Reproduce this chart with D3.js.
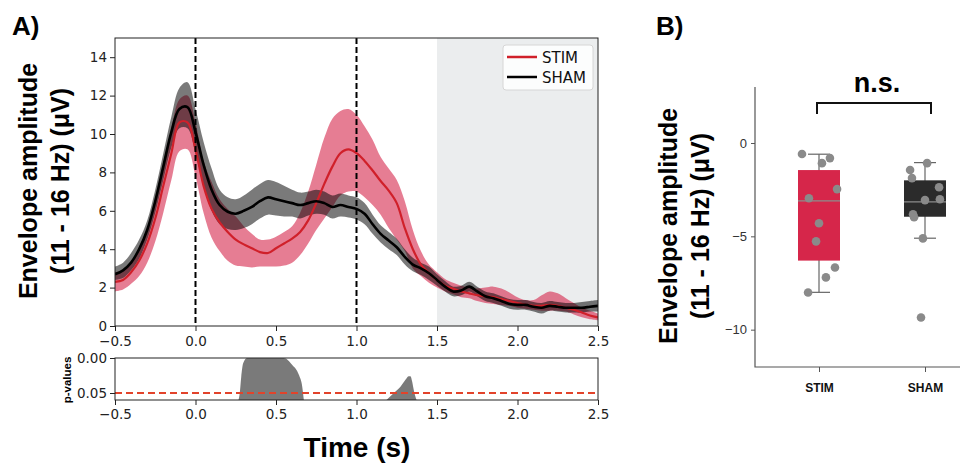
<!DOCTYPE html>
<html>
<head>
<meta charset="utf-8">
<script src="https://cdn.jsdelivr.net/npm/d3@7"></script>
<style>
  body { margin: 0; background: #fff; }
  svg { display: block; }
</style>
</head>
<body>
<svg id="chart" width="960" height="464"></svg>
<script>
// time samples (s)
const time = [-0.5,-0.45,-0.4,-0.35,-0.3,-0.25,-0.2,-0.15,-0.1,-0.05,
  0,0.05,0.1,0.15,0.2,0.25,0.3,0.35,0.4,0.45,
  0.5,0.55,0.6,0.65,0.7,0.75,0.8,0.85,0.9,0.95,
  1,1.05,1.1,1.15,1.2,1.25,1.3,1.35,1.4,1.45,
  1.5,1.55,1.6,1.65,1.7,1.75,1.8,1.85,1.9,1.95,
  2,2.05,2.1,2.15,2.2,2.25,2.3,2.35,2.4,2.45,2.5];

// STIM envelope (mean, lower CI, upper CI)
const stimMean = [2.3,2.4,2.8,3.4,4.3,5.6,7.3,9.0,10.6,10.6,
  9.2,7.3,6.1,5.4,4.9,4.5,4.25,4.05,3.85,3.8,
  4.05,4.3,4.55,4.9,5.5,6.4,7.4,8.3,9.0,9.2,
  9.0,8.6,8.1,7.55,7.05,6.4,5.1,4.0,3.2,2.75,
  2.4,2.1,1.95,1.8,1.7,1.6,1.55,1.5,1.4,1.3,
  1.2,1.1,1.05,1.05,1.1,1.05,0.95,0.85,0.7,0.55,0.45];
const stimLo = [1.8,1.9,2.2,2.6,3.3,4.4,5.9,7.6,9.1,9.2,
  7.8,5.9,4.6,3.9,3.4,3.15,3.1,3.05,3.1,3.1,
  3.1,3.15,3.3,3.7,4.3,5.0,5.6,6.2,6.8,7.0,
  7.0,6.7,6.3,5.8,5.1,4.5,3.9,3.0,2.6,2.25,
  2.0,1.8,1.65,1.5,1.45,1.3,1.2,1.15,1.1,1.05,
  0.95,0.9,0.85,0.8,0.8,0.8,0.75,0.6,0.45,0.35,0.3];
const stimHi = [2.8,2.9,3.3,4.1,5.1,6.6,8.5,10.3,11.8,12.0,
  10.6,8.6,7.5,6.6,6.1,5.7,5.2,4.8,4.5,4.5,
  4.65,4.9,5.2,5.9,7.0,8.4,9.8,10.8,11.2,11.3,
  11.0,10.4,9.7,8.8,8.2,7.6,6.5,5.0,3.9,3.2,
  2.8,2.45,2.25,2.1,2.0,1.95,2.0,2.05,1.95,1.75,
  1.5,1.35,1.35,1.6,1.8,1.7,1.45,1.2,0.95,0.8,0.65];

// SHAM envelope (mean, lower CI, upper CI)
const shamMean = [2.7,2.9,3.3,4.0,5.0,6.5,8.3,10.1,11.3,11.4,
  10.1,8.4,7.1,6.3,5.95,5.85,6.0,6.2,6.5,6.7,
  6.6,6.5,6.4,6.3,6.4,6.5,6.4,6.2,6.3,6.2,
  6.1,5.85,5.3,4.8,4.45,4.1,3.6,3.2,3.0,2.75,
  2.4,2.05,1.8,1.85,2.05,1.8,1.55,1.45,1.3,1.15,
  1.1,1.1,1.0,0.95,1.05,1.0,0.95,0.95,0.95,1.0,1.05];
const shamLo = [2.4,2.5,2.9,3.5,4.5,5.9,7.6,9.3,10.3,10.3,
  9.0,7.3,6.0,5.3,5.05,5.0,5.1,5.3,5.6,5.8,
  5.75,5.7,5.7,5.6,5.75,5.85,5.8,5.6,5.7,5.65,
  5.55,5.3,4.8,4.35,4.0,3.7,3.2,2.85,2.65,2.4,
  2.1,1.8,1.55,1.6,1.8,1.55,1.3,1.2,1.05,0.9,
  0.85,0.85,0.75,0.65,0.8,0.75,0.7,0.7,0.7,0.75,0.75];
const shamHi = [3.1,3.3,3.8,4.5,5.5,7.1,9.0,10.9,12.4,12.7,
  11.3,9.6,8.2,7.1,6.7,6.6,6.8,7.1,7.4,7.6,
  7.5,7.3,7.1,6.95,7.0,7.1,7.0,6.8,6.9,6.8,
  6.7,6.4,5.8,5.25,4.9,4.55,4.0,3.55,3.3,3.1,
  2.7,2.35,2.05,2.1,2.3,2.05,1.8,1.7,1.55,1.4,
  1.35,1.35,1.25,1.2,1.3,1.25,1.2,1.2,1.25,1.3,1.35];

// significant clusters (p-values)
const cluster1Time = [0.267,0.275,0.284,0.296,0.321,0.548,0.601,0.642,0.663,0.673];
const cluster1P    = [0.06,0.05,0.027,0.0076,0,0,0.010,0.024,0.041,0.06];
const cluster2Time = [1.186,1.232,1.273,1.304,1.325,1.335,1.346,1.356,1.373];
const cluster2P    = [0.06,0.05,0.041,0.031,0.026,0.026,0.034,0.046,0.06];

// panel B
const groups = ["STIM", "SHAM"];
const stimPoints = [-0.59,-1.08,-0.81,-2.47,-2.96,-4.30,-5.27,-6.67,-7.20,-8.01];
const stimJitter = [-0.81,0.14,0.52,0.86,-0.48,0,-0.14,0.76,0.33,-0.52];
const shamPoints = [-1.45,-1.88,-1.08,-2.37,-3.06,-3.01,-3.82,-3.98,-5.11,-9.35];
const shamJitter = [-0.71,-0.62,0.1,0.67,0,0.71,-0.57,-0.52,-0.1,-0.19];
// whisker low, q1, median, q3, whisker high
const stimBox = [-8.0, -6.3, -3.1, -1.45, -0.6];
const shamBox = [-5.1, -3.95, -3.15, -2.0, -1.05];

const xTicksA = [-0.5, 0, 0.5, 1, 1.5, 2, 2.5];
const yTicksA = [0, 2, 4, 6, 8, 10, 12, 14];
const pTicks = [0, 0.05];
const yTicksB = [0, -5, -10];

const svg = d3.select("#chart");
const fmt = d3.format(".1f");

// ---------- Panel A ----------
const x = d3.scaleLinear().domain([-0.5, 2.5]).range([115, 598]);
const y = d3.scaleLinear().domain([0, 15]).range([326, 38]);
const yp = d3.scaleLinear().domain([0, 0.06]).range([358, 400]);

svg.append("defs").append("clipPath").attr("id", "clipA")
  .append("rect").attr("x", 115).attr("y", 38).attr("width", 483).attr("height", 288);

const plot = svg.append("g").attr("clip-path", "url(#clipA)");

// post-stimulus window shading
plot.append("rect")
  .attr("x", x(1.5)).attr("y", 38)
  .attr("width", x(2.5) - x(1.5)).attr("height", 288)
  .attr("fill", "#ebedee");

const curve = d3.curveCatmullRom.alpha(0.5);
const band = (lo, hi) => d3.area()
  .x((d, i) => x(time[i]))
  .y0((d, i) => y(lo[i]))
  .y1((d, i) => y(hi[i]))
  .curve(curve)(time);
const meanLine = m => d3.line()
  .x((d, i) => x(time[i]))
  .y((d, i) => y(m[i]))
  .curve(curve)(time);

plot.append("path").attr("d", band(stimLo, stimHi))
  .attr("fill", "#d41f45").attr("fill-opacity", 0.58);
plot.append("path").attr("d", band(shamLo, shamHi))
  .attr("fill", "#000").attr("fill-opacity", 0.52);
plot.append("path").attr("d", meanLine(stimMean))
  .attr("fill", "none").attr("stroke", "#d0202a").attr("stroke-width", 2.2);
plot.append("path").attr("d", meanLine(shamMean))
  .attr("fill", "none").attr("stroke", "#000").attr("stroke-width", 2.6);

// stimulus markers
[0, 1].forEach(t => {
  plot.append("line")
    .attr("x1", x(t)).attr("x2", x(t)).attr("y1", 38).attr("y2", 326)
    .attr("stroke", "#000").attr("stroke-width", 2)
    .attr("stroke-dasharray", "6,3");
});

// axes
const axA = svg.append("g");
axA.append("g").attr("transform", "translate(0,326)")
  .call(d3.axisBottom(x).tickValues(xTicksA).tickFormat(d => fmt(d).replace("-", "\u2212")).tickSize(5).tickPadding(5));
axA.append("g").attr("transform", "translate(115,0)")
  .call(d3.axisLeft(y).tickValues(yTicksA).tickSize(5).tickPadding(3));
axA.selectAll(".domain").remove();
axA.selectAll("text").attr("font-family", "DejaVu Sans").attr("font-size", 13.5).attr("fill", "#222");
axA.selectAll("line").attr("stroke", "#222");
svg.append("rect").attr("x", 115).attr("y", 38).attr("width", 483).attr("height", 288)
  .attr("fill", "none").attr("stroke", "#222").attr("stroke-width", 1);

// legend
const leg = svg.append("g");
leg.append("rect").attr("x", 503).attr("y", 45).attr("width", 90).attr("height", 45).attr("rx", 3)
  .attr("fill", "#fff").attr("fill-opacity", 0.85).attr("stroke", "#d6d6d6");
[["STIM", "#d0202a", 57], ["SHAM", "#000", 77]].forEach(([name, c, ly]) => {
  leg.append("line").attr("x1", 507).attr("x2", 537).attr("y1", ly).attr("y2", ly)
    .attr("stroke", c).attr("stroke-width", 2.5);
  leg.append("text").attr("x", 542).attr("y", ly + 5.5).text(name)
    .attr("font-family", "DejaVu Sans").attr("font-size", 15).attr("fill", "#111");
});

// p-value panel
const areaP = (ts, ps) => d3.area()
  .x((d, i) => x(ts[i]))
  .y0(yp(0.06))
  .y1((d, i) => yp(ps[i]))
  .curve(d3.curveMonotoneX)(ts);
svg.append("path").attr("d", areaP(cluster1Time, cluster1P)).attr("fill", "#7a7a7a");
svg.append("path").attr("d", areaP(cluster2Time, cluster2P)).attr("fill", "#7a7a7a");
svg.append("line").attr("x1", 115).attr("x2", 598).attr("y1", yp(0.05)).attr("y2", yp(0.05))
  .attr("stroke", "#e2432b").attr("stroke-width", 2.2).attr("stroke-dasharray", "7,4");

const axP = svg.append("g");
axP.append("g").attr("transform", "translate(0,400)")
  .call(d3.axisBottom(x).tickValues(xTicksA).tickFormat(d => fmt(d).replace("-", "\u2212")).tickSize(5).tickPadding(4));
axP.append("g").attr("transform", "translate(115,0)")
  .call(d3.axisLeft(yp).tickValues(pTicks).tickFormat(d3.format(".2f")).tickSize(5).tickPadding(3));
axP.selectAll(".domain").remove();
axP.selectAll("text").attr("font-family", "DejaVu Sans").attr("font-size", 13.5).attr("fill", "#222");
axP.selectAll("line").attr("stroke", "#222");
svg.append("rect").attr("x", 115).attr("y", 358).attr("width", 483).attr("height", 42)
  .attr("fill", "none").attr("stroke", "#222").attr("stroke-width", 1);

// labels panel A
const bold = "Liberation Sans, Arial, sans-serif";
svg.append("text").attr("x", 12).attr("y", 35).text("A)")
  .attr("font-family", bold).attr("font-weight", "bold").attr("font-size", 26);
svg.append("text").attr("transform", "translate(37,181) rotate(-90)").attr("text-anchor", "middle")
  .attr("font-family", bold).attr("font-weight", "bold").attr("font-size", 25).text("Envelope amplitude");
svg.append("text").attr("transform", "translate(69,181) rotate(-90)").attr("text-anchor", "middle")
  .attr("font-family", bold).attr("font-weight", "bold").attr("font-size", 25).text("(11 - 16 Hz) (μV)");
svg.append("text").attr("transform", "translate(71,380) rotate(-90)").attr("text-anchor", "middle")
  .attr("font-family", bold).attr("font-weight", "bold").attr("font-size", 11.5).text("p-values");
svg.append("text").attr("x", 357).attr("y", 457).attr("text-anchor", "middle")
  .attr("font-family", bold).attr("font-weight", "bold").attr("font-size", 28).text("Time (s)");

// ---------- Panel B ----------
const xb = d3.scalePoint().domain(groups).range([819, 925]);
const yb = d3.scaleLinear().domain([-12, 3]).range([367, 87]);
const boxW = 42;

svg.append("text").attr("x", 656).attr("y", 35).text("B)")
  .attr("font-family", bold).attr("font-weight", "bold").attr("font-size", 26);
svg.append("text").attr("transform", "translate(677,226) rotate(-90)").attr("text-anchor", "middle")
  .attr("font-family", bold).attr("font-weight", "bold").attr("font-size", 25).text("Envelope amplitude");
svg.append("text").attr("transform", "translate(709,226) rotate(-90)").attr("text-anchor", "middle")
  .attr("font-family", bold).attr("font-weight", "bold").attr("font-size", 25).text("(11 - 16 Hz) (μV)");

const axB = svg.append("g");
axB.append("g").attr("transform", "translate(755,0)")
  .call(d3.axisLeft(yb).tickValues(yTicksB).tickSize(4).tickPadding(4).tickSizeOuter(0));
const axBx = axB.append("g").attr("transform", "translate(0,367)")
  .call(d3.axisBottom(xb).tickSize(5).tickPadding(11).tickSizeOuter(0));
axB.selectAll(".domain").remove();
axB.selectAll("line").attr("stroke", "#555");
axB.selectAll("text").attr("font-family", bold).attr("fill", "#333").attr("font-size", 13);
axBx.selectAll("text").attr("font-weight", "bold").attr("font-size", 12).attr("fill", "#111");
svg.append("path").attr("d", `M755,87V367H960`).attr("fill", "none").attr("stroke", "#555").attr("stroke-width", 1.2);

const boxes = [[groups[0], stimBox, "#d6264a"], [groups[1], shamBox, "#2b2b2b"]];
boxes.forEach(([g, s, c]) => {
  const cx = xb(g);
  svg.append("line").attr("x1", cx).attr("x2", cx).attr("y1", yb(s[0])).attr("y2", yb(s[4]))
    .attr("stroke", "#666").attr("stroke-width", 1.2);
  [s[0], s[4]].forEach(v => svg.append("line")
    .attr("x1", cx - 11).attr("x2", cx + 11).attr("y1", yb(v)).attr("y2", yb(v))
    .attr("stroke", "#666").attr("stroke-width", 1.2));
  svg.append("rect").attr("x", cx - boxW / 2).attr("y", yb(s[3]))
    .attr("width", boxW).attr("height", yb(s[1]) - yb(s[3])).attr("fill", c);
  svg.append("line").attr("x1", cx - boxW / 2).attr("x2", cx + boxW / 2)
    .attr("y1", yb(s[2])).attr("y2", yb(s[2])).attr("stroke", "#8c8c8c").attr("stroke-width", 1.2);
});

[[groups[0], stimPoints, stimJitter], [groups[1], shamPoints, shamJitter]].forEach(([g, pts, jit]) => {
  svg.append("g").selectAll("circle").data(pts).join("circle")
    .attr("cx", (d, i) => xb(g) + jit[i] * boxW / 2)
    .attr("cy", d => yb(d))
    .attr("r", 4.3)
    .attr("fill", "#8a8a8a");
});

// significance bracket
svg.append("path")
  .attr("d", `M${xb("STIM") - 2},114V103H${xb("SHAM") + 6}V114`)
  .attr("fill", "none").attr("stroke", "#111").attr("stroke-width", 2);
svg.append("text").attr("x", 877).attr("y", 92).attr("text-anchor", "middle")
  .attr("font-family", bold).attr("font-weight", "bold").attr("font-size", 27).text("n.s.");
</script>
</body>
</html>
